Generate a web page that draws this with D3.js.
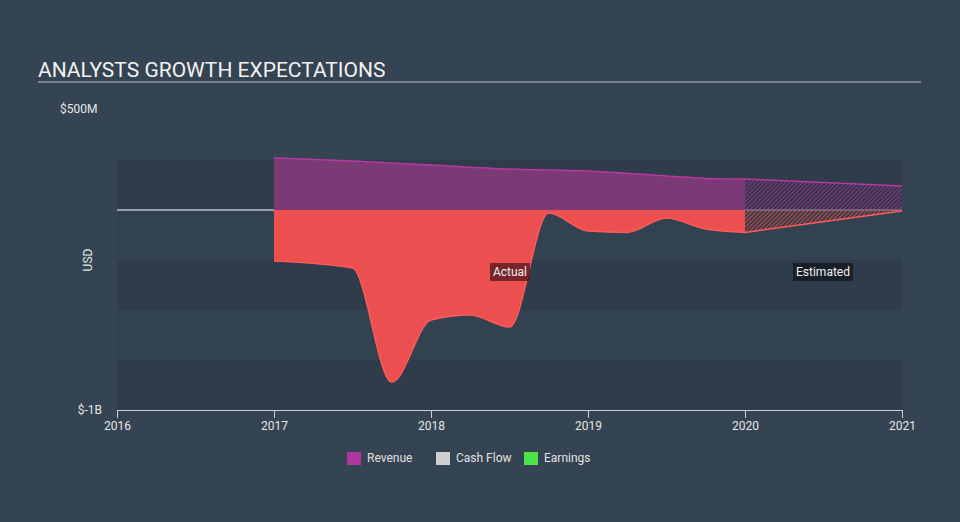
<!DOCTYPE html>
<html><head><meta charset="utf-8">
<script src="https://cdn.jsdelivr.net/npm/d3@7"></script>
<style>body{margin:0;background:#354452;}svg{display:block;font-family:Roboto,"Open Sans",sans-serif;}</style>
</head><body><svg id="c" width="960" height="522"></svg>
<script>
const years = [2016, 2017, 2018, 2019, 2020, 2021];
const yTickLabels = ["$500M", "$-1B"];
const yTickValues = [5e8, -1e9];
const revenueActual = [[2017.0, 2.6e8],[2017.5, 2.45e8],[2018.0, 2.25e8],[2018.5, 2.05e8],[2019.0, 1.95e8],[2019.5, 1.7e8],[2019.75, 1.58e8],[2020.0, 1.55e8]];
const revenueEstimated = [[2020.0, 1.55e8],[2021.0, 1.2e8]];
const earningsActual = [[2017.0,-2.55e8],[2017.5,-2.9e8],[2017.75,-8.6e8],[2018.0,-5.5e8],[2018.25,-5.25e8],[2018.5,-5.85e8],[2018.75,-0.15e8],[2019.0,-1.05e8],[2019.25,-1.12e8],[2019.5,-0.4e8],[2019.75,-0.95e8],[2020.0,-1.12e8]];
const earningsEstimated = [[2020.0,-1.12e8],[2021.0,-0.05e8]];
const legendItems = ["Revenue","Cash Flow","Earnings"];
const legendColors = ["#b0379f","#cfcfcf","#4ce24a"];

const svg = d3.select("#c");
const x = d3.scaleLinear().domain([2016, 2021]).range([117, 902]);
const y = d3.scaleLinear().domain([-1e9, 5e8]).range([410, 110]);

// title
svg.append("text").attr("x",38).attr("y",77).attr("fill","#f2f2f2").attr("font-size",21).text("ANALYSTS GROWTH EXPECTATIONS");
svg.append("line").attr("x1",38).attr("x2",921).attr("y1",82).attr("y2",82).attr("stroke","#b9bec4").attr("stroke-width",1.2);

// bands
const bandEdges = [2.5e8, 0, -2.5e8, -5e8, -7.5e8, -1e9];
for (let i=0;i<bandEdges.length-1;i++){
  svg.append("rect").attr("x",x(2016)).attr("width",x(2021)-x(2016))
    .attr("y",y(bandEdges[i])).attr("height",y(bandEdges[i+1])-y(bandEdges[i]))
    .attr("fill", i%2===0 ? "#2e3c4b" : "#334251");
}

// patterns
const defs = svg.append("defs");
function pat(id,color){
  const p = defs.append("pattern").attr("id",id).attr("patternUnits","userSpaceOnUse")
    .attr("width",3).attr("height",3).attr("patternTransform","rotate(45)");
  p.append("rect").attr("width",3).attr("height",3).attr("fill","#2f3442").attr("fill-opacity",0.45);
  p.append("rect").attr("width",1.1).attr("height",3).attr("fill",color).attr("fill-opacity",0.85);
}
pat("hatchRev","#9a3590");
pat("hatchEarn","#d9504d");

// zero line
svg.append("line").attr("x1",x(2016)).attr("x2",x(2021)).attr("y1",y(0)).attr("y2",y(0)).attr("stroke","#ffffff").attr("stroke-width",1.2);

const area = d3.area().x(d=>x(d[0])).y0(y(0)).y1(d=>y(d[1])).curve(d3.curveMonotoneX);
const areaLin = d3.area().x(d=>x(d[0])).y0(y(0)).y1(d=>y(d[1]));
const line = d3.line().x(d=>x(d[0])).y(d=>y(d[1])).curve(d3.curveMonotoneX);
const lineLin = d3.line().x(d=>x(d[0])).y(d=>y(d[1]));

svg.append("path").datum(revenueActual).attr("d",area).attr("fill","#7b3a75");
svg.append("path").datum(revenueEstimated).attr("d",areaLin).attr("fill","url(#hatchRev)");
svg.append("path").datum(earningsActual).attr("d",area).attr("fill","#ec4f4f");
svg.append("path").datum(earningsEstimated).attr("d",areaLin).attr("fill","url(#hatchEarn)");

svg.append("path").datum(revenueActual).attr("d",line).attr("fill","none").attr("stroke","#b9389f").attr("stroke-width",1.5);
svg.append("path").datum(revenueEstimated).attr("d",lineLin).attr("fill","none").attr("stroke","#b9389f").attr("stroke-width",1.5);
svg.append("path").datum(earningsActual).attr("d",line).attr("fill","none").attr("stroke","#ff5a5a").attr("stroke-width",1.5);
svg.append("path").datum(earningsEstimated).attr("d",lineLin).attr("fill","none").attr("stroke","#ff5a5a").attr("stroke-width",1.5);

// y labels
svg.append("text").attr("x",60).attr("y",y(5e8)+3).attr("fill","#e6e6e6").attr("font-size",12).text(yTickLabels[0]);
svg.append("text").attr("x",102).attr("y",y(-1e9)+4).attr("text-anchor","end").attr("fill","#e6e6e6").attr("font-size",12).text(yTickLabels[1]);
svg.append("text").attr("transform","translate(92,260) rotate(-90)").attr("text-anchor","middle").attr("fill","#e6e6e6").attr("font-size",12).text("USD");

// x axis
const xAxis = d3.axisBottom(x).tickValues(years).tickFormat(d3.format("d")).tickSize(8).tickSizeOuter(0);
const gx = svg.append("g").attr("transform",`translate(0,${y(-1e9)})`).call(xAxis);
gx.select(".domain").attr("stroke","#c9ced4");
gx.selectAll(".tick line").attr("stroke","#c9ced4");
gx.selectAll(".tick text").attr("fill","#e6e6e6").attr("font-size",12).attr("font-family","Roboto, sans-serif").attr("y",11).attr("dy","0.71em");

// annotation labels
function tag(cx,cy,txt,bg,op){
  const t = svg.append("text").attr("x",cx).attr("y",cy+4).attr("text-anchor","middle").attr("fill","#f0f0f0").attr("font-size",12).text(txt);
  const b = t.node().getBBox();
  svg.insert("rect", () => t.node()).attr("x",b.x-3).attr("y",cy-9).attr("width",b.width+6).attr("height",18).attr("fill",bg).attr("fill-opacity",op);
}
tag(510,272,"Actual","#5a1a22",0.8);
tag(823,272,"Estimated","#151a21",0.85);

// legend
const lx = [347, 436, 524];
legendItems.forEach((n,i)=>{
  svg.append("rect").attr("x",lx[i]).attr("y",452).attr("width",14).attr("height",13).attr("fill",legendColors[i]);
  svg.append("text").attr("x",lx[i]+20).attr("y",462).attr("fill","#e0e0e0").attr("font-size",12).text(n);
});
</script></body></html>
